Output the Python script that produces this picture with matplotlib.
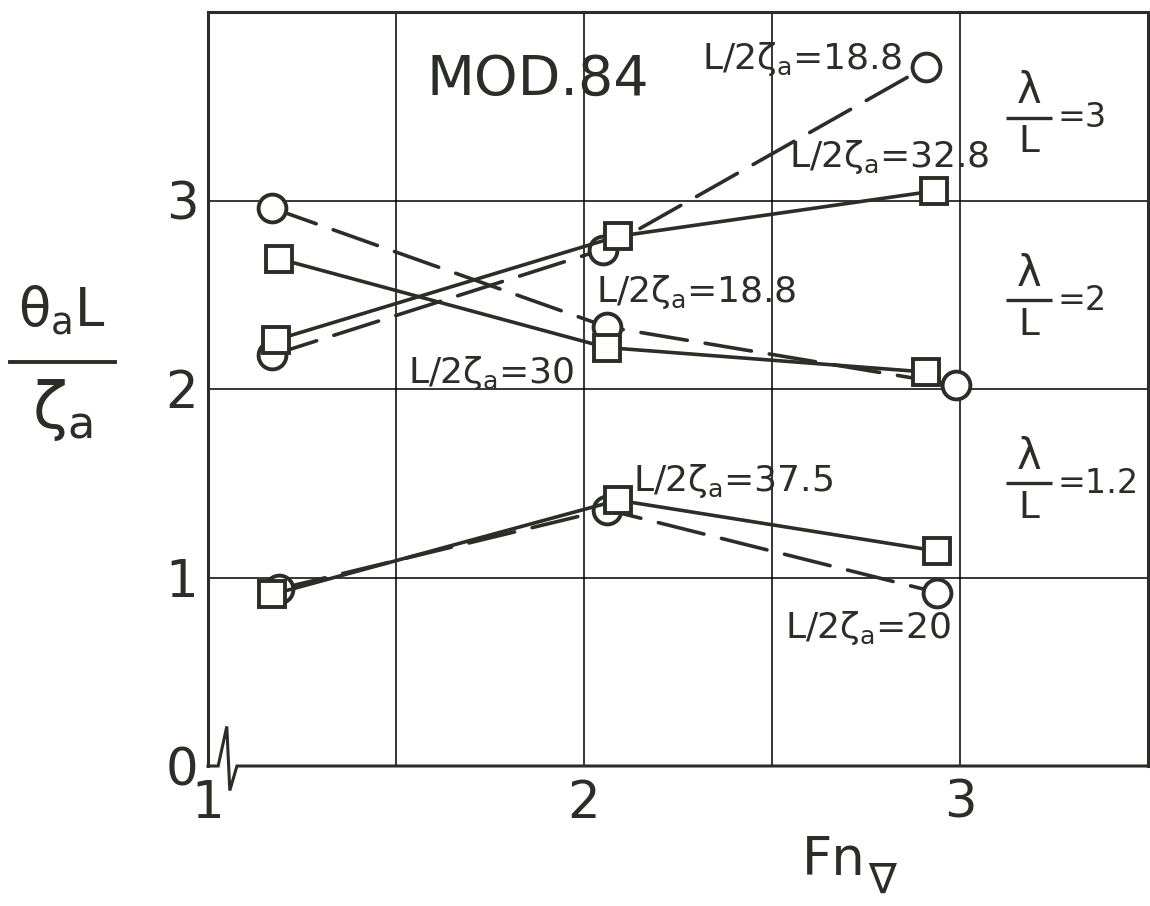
import matplotlib
matplotlib.use("agg")

import matplotlib.pyplot as plt
from matplotlib.lines import Line2D


# Fn_nabla and theta_a L / zeta_a read per series
# lambda/L = 3
lam3_circ_fn = [1.17, 2.05, 2.91]
lam3_circ_val = [2.18, 2.74, 3.71]
lam3_sq_fn = [1.18, 2.09, 2.93]
lam3_sq_val = [2.26, 2.81, 3.05]
# lambda/L = 2
lam2_circ_fn = [1.17, 2.06, 2.99]
lam2_circ_val = [2.96, 2.33, 2.02]
lam2_sq_fn = [1.19, 2.06, 2.91]
lam2_sq_val = [2.69, 2.22, 2.09]
# lambda/L = 1.2
lam12_circ_fn = [1.19, 2.06, 2.94]
lam12_circ_val = [0.94, 1.36, 0.92]
lam12_sq_fn = [1.17, 2.09, 2.94]
lam12_sq_val = [0.91, 1.41, 1.14]

wave_ratios = ["3", "2", "1.2"]
height_ratios = ["18.8", "32.8", "18.8", "30", "37.5", "20"]

x_ticks = [1, 2, 3]
y_ticks = [0, 1, 2, 3]

INK = "#2b2e27"

plt.rcParams["font.family"] = ["DejaVu Sans"]
plt.rcParams["mathtext.default"] = "regular"
plt.rcParams["mathtext.fontset"] = "dejavusans"

fig = plt.figure(figsize=(11.5, 9.06), dpi=100)
ax = fig.add_axes([208 / 1150, 140 / 906, 940 / 1150, 754 / 906])
ax.set_xlim(1, 3.5)
ax.set_ylim(0, 4)

# grid
for gx in [1.5, 2, 2.5, 3]:
    ax.axvline(gx, color="black", lw=1.1, zorder=1)
for gy in [1, 2, 3]:
    ax.axhline(gy, color="black", lw=1.1, zorder=1)

ax.spines["bottom"].set_visible(False)
for side in ["left", "top", "right"]:
    ax.spines[side].set_linewidth(2.2)
    ax.spines[side].set_color(INK)

# bottom axis with break mark at the origin
ax.plot([1.0, 1.027, 1.050, 1.058, 1.077, 3.5], [0, 0, 0.21, -0.13, 0, 0],
        color=INK, lw=2.2, clip_on=False, zorder=3, solid_joinstyle="miter")

line_kw = dict(color=INK, lw=2.6, zorder=4, markerfacecolor="white",
               markeredgecolor=INK, markeredgewidth=2.8)
dash_kw = dict(linestyle=(0, (13, 5)), dash_capstyle="round")

for fn, val in [(lam3_circ_fn, lam3_circ_val), (lam2_circ_fn, lam2_circ_val),
                (lam12_circ_fn, lam12_circ_val)]:
    ax.plot(fn, val, marker="o", markersize=20, **line_kw, **dash_kw)

for fn, val in [(lam3_sq_fn, lam3_sq_val), (lam2_sq_fn, lam2_sq_val),
                (lam12_sq_fn, lam12_sq_val)]:
    ax.plot(fn, val, marker="s", markersize=19, **line_kw)

ax.set_xticks(x_ticks)
ax.set_xticklabels([str(t) for t in x_ticks])
ax.set_yticks(y_ticks)
ax.set_yticklabels([str(t) for t in y_ticks])
ax.tick_params(length=0, labelsize=37, colors=INK)
ax.tick_params(axis="x", pad=9)
ax.tick_params(axis="y", pad=7)

ax.text(1.58, 3.56, "MOD.84", fontsize=40, color=INK)

# L/2 zeta_a labels
label_pos = [(2.315, 3.70), (2.544, 3.18), (2.033, 2.46),
             (1.531, 2.03), (2.129, 1.46), (2.535, 0.68)]
for (lx, ly), h in zip(label_pos, height_ratios):
    ax.text(lx, ly, r"$L/2\zeta_a$=" + h, fontsize=26, color=INK,
            va="baseline", zorder=5)

# lambda/L labels, stacked as a fraction
for ly, r in zip([3.44, 2.47, 1.50], wave_ratios):
    ax.text(3.183, ly + 0.03, "λ", fontsize=30, color=INK,
            ha="center", va="bottom")
    ax.text(3.183, ly - 0.035, "L", fontsize=27, color=INK,
            ha="center", va="top")
    ax.plot([3.122, 3.244], [ly, ly], color=INK, lw=2.4, solid_capstyle="butt")
    ax.text(3.258, ly, "=" + r, fontsize=24, color=INK, va="center")

# y label: theta_a L over zeta_a
fig.text(0.054, 1 - 326 / 906, r"$\theta_aL$", fontsize=38, color=INK,
         ha="center", va="baseline")
fig.text(0.054, 1 - 377 / 906, r"$\zeta_a$", fontsize=46, color=INK,
         ha="center", va="top")
fig.add_artist(Line2D([10 / 1150, 115 / 1150], [1 - 362 / 906, 1 - 362 / 906],
                      color=INK, lw=2.8))

# x label Fn_nabla
fig.text(802 / 1150, 1 - 875 / 906, "Fn", fontsize=38, color=INK,
         va="baseline")
fig.text(868 / 1150, 1 - 902 / 906, r"$\nabla$", fontsize=30, color=INK,
         va="bottom")

fig.savefig("out.png", dpi=100)
